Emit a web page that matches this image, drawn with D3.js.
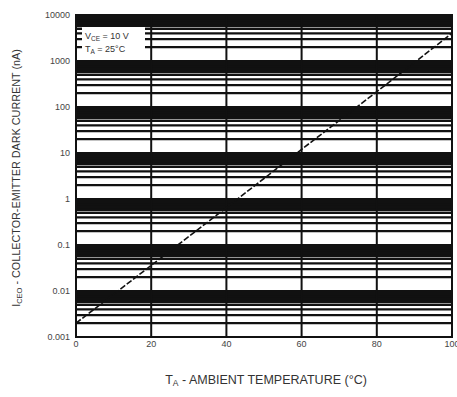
<!DOCTYPE html>
<html><head><meta charset="utf-8">
<script src="https://cdn.jsdelivr.net/npm/d3@7"></script>
<style>body{margin:0;background:#fff}svg{display:block}text{font-family:"Liberation Sans",Arial,sans-serif}</style>
</head><body>
<script>
const temps = [0, 20, 40, 60, 80, 100];
const darkCurrent = [0.002, 0.036, 0.65, 12, 215, 4000];
const xTicks = [0, 20, 40, 60, 80, 100];
const yTicks = [0.001, 0.01, 0.1, 1, 10, 100, 1000, 10000];
const yTickLabels = ["0.001", "0.01", "0.1", "1", "10", "100", "1000", "10000"];
const legendLines = [["V", "CE", " = 10 V"], ["T", "A", " = 25°C"]];

const W = 457, H = 397;
const svg = d3.select("body").append("svg").attr("width", W).attr("height", H);
const x = d3.scaleLinear().domain([0, 100]).range([76, 452]);
const y = d3.scaleLog().domain([0.001, 10000]).range([337, 15]);

// horizontal grid (log minor + major)
const hVals = y.ticks();
const mant = d => Math.round(d / Math.pow(10, Math.floor(Math.log10(d) + 1e-9)));
svg.append("g").selectAll("line").data(hVals).join("line")
  .attr("x1", x(0)).attr("x2", x(100))
  .attr("y1", d => y(d)).attr("y2", d => y(d))
  .attr("stroke", "#111")
  .attr("stroke-width", d => mant(d) >= 6 ? 4.2 : 2.2);

// vertical grid
svg.append("g").selectAll("line").data(xTicks).join("line")
  .attr("x1", d => x(d)).attr("x2", d => x(d))
  .attr("y1", y(10000)).attr("y2", y(0.001))
  .attr("stroke", "#111").attr("stroke-width", 2);

// legend box
svg.append("rect").attr("x", 82).attr("y", 27).attr("width", 63).attr("height", y(1000) - 28)
  .attr("fill", "#fff");
legendLines.forEach((l, i) => {
  const t = svg.append("text").attr("x", 85).attr("y", 39 + i * 13)
    .attr("font-size", 9).attr("fill", "#333");
  t.append("tspan").text(l[0]);
  t.append("tspan").attr("font-size", 6.5).attr("dy", 2).text(l[1]);
  t.append("tspan").attr("dy", -2).text(l[2]);
});

// data line
const line = d3.line().x((d, i) => x(temps[i])).y(d => y(d));
svg.append("path").datum(darkCurrent).attr("d", line)
  .attr("fill", "none").attr("stroke", "#111").attr("stroke-width", 1.6)
  .attr("stroke-dasharray", "6,2");

// frame
svg.append("rect").attr("x", x(0)).attr("y", y(10000))
  .attr("width", x(100) - x(0)).attr("height", y(0.001) - y(10000))
  .attr("fill", "none").attr("stroke", "#111").attr("stroke-width", 2);

// y tick labels
svg.append("g").selectAll("text").data(yTicks).join("text")
  .attr("x", 70).attr("y", d => y(d) + 3)
  .attr("text-anchor", "end").attr("font-size", 9).attr("fill", "#444")
  .text((d, i) => yTickLabels[i]);

// x tick labels
svg.append("g").selectAll("text").data(xTicks).join("text")
  .attr("x", d => x(d)).attr("y", 347)
  .attr("text-anchor", "middle").attr("font-size", 9).attr("fill", "#444")
  .text(d => d);

// x title
const xt = svg.append("text").attr("x", 266).attr("y", 384).attr("text-anchor", "middle")
  .attr("font-size", 12.5).attr("fill", "#333");
xt.append("tspan").text("T");
xt.append("tspan").attr("font-size", 8.5).attr("dy", 2).text("A");
xt.append("tspan").attr("dy", -2).text(" - AMBIENT TEMPERATURE (°C)");

// y title
const yt = svg.append("text").attr("transform", "translate(20,178) rotate(-90)")
  .attr("text-anchor", "middle").attr("font-size", 10.8).attr("fill", "#333");
yt.append("tspan").text("I");
yt.append("tspan").attr("font-size", 7.5).attr("dy", 2).text("CEO");
yt.append("tspan").attr("dy", -2).text(" - COLLECTOR-EMITTER DARK CURRENT (nA)");
</script>
</body></html>
